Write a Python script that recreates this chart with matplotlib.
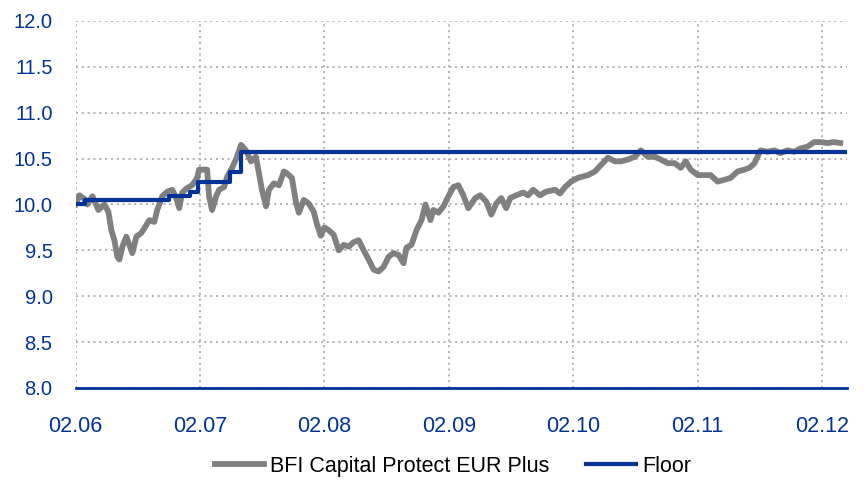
import matplotlib.pyplot as plt

plt.rcParams['font.family'] = ['Liberation Sans', 'DejaVu Sans']

# months since 02.06
fund_m = [0.0, 0.38, 0.87, 1.15, 1.63, 2.21, 2.79, 3.17, 3.46, 3.75, 4.04, 4.23, 4.52, 4.90,
          5.19, 5.48, 5.87, 6.35, 6.63, 7.12, 7.60, 7.88, 8.37, 8.85, 9.33, 9.71, 10.0, 10.29,
          10.77, 11.25, 11.73, 11.92, 12.69, 12.88, 13.17, 13.56, 13.85, 14.33, 14.62, 15.10,
          15.58, 15.96, 16.44, 16.92, 17.40, 17.69, 17.98, 18.37, 18.65, 19.13, 19.62, 20.10,
          20.38, 20.87, 21.25, 21.54, 22.02, 22.50, 22.98, 23.27, 23.65, 24.0, 24.42, 24.90,
          25.38, 25.87, 26.35, 26.83, 27.31, 27.79, 28.27, 28.75, 29.23, 29.71, 30.19, 30.67,
          31.15, 31.63, 31.92, 32.40, 32.88, 33.37, 33.75, 34.23, 34.52, 35.00, 35.48, 35.96,
          36.44, 36.92, 37.40, 37.88, 38.56, 39.04, 39.62, 40.10, 40.58, 41.06, 41.54, 41.92,
          42.50, 43.17, 43.65, 44.13, 44.81, 45.38, 46.25, 46.73, 47.21, 47.79, 48.46, 49.42,
          50.10, 50.67, 51.35, 52.02, 52.60, 53.27, 53.94, 54.52, 55.19, 55.87, 56.44, 57.12,
          57.79, 58.37, 58.85, 59.33, 60.0, 60.67, 61.25, 61.92, 62.60, 63.17, 63.85, 64.52,
          65.0, 65.48, 65.77, 66.06, 66.73, 67.40, 67.98, 68.65, 69.33, 69.90, 70.58, 71.25,
          71.83, 72.50, 73.17, 73.75]
fund_v = [10.00, 10.10, 10.06, 10.00, 10.09, 9.94, 10.00, 9.92, 9.72, 9.61, 9.43, 9.40, 9.54, 9.65,
          9.56, 9.47, 9.65, 9.69, 9.74, 9.83, 9.81, 9.94, 10.09, 10.14, 10.16, 10.07, 9.96, 10.13,
          10.18, 10.21, 10.29, 10.38, 10.38, 10.09, 9.94, 10.09, 10.16, 10.19, 10.30, 10.40,
          10.52, 10.65, 10.59, 10.47, 10.52, 10.34, 10.16, 9.98, 10.16, 10.23, 10.21, 10.36,
          10.34, 10.29, 10.03, 9.91, 10.05, 10.01, 9.92, 9.79, 9.66, 9.75, 9.72, 9.67,
          9.50, 9.56, 9.54, 9.59, 9.61, 9.50, 9.40, 9.29, 9.27, 9.32, 9.43, 9.47,
          9.45, 9.36, 9.53, 9.56, 9.72, 9.83, 10.00, 9.83, 9.94, 9.91, 9.98, 10.09,
          10.19, 10.21, 10.10, 9.96, 10.07, 10.10, 10.03, 9.89, 10.01, 10.07, 9.96, 10.07,
          10.10, 10.13, 10.10, 10.16, 10.10, 10.14, 10.16, 10.12, 10.19, 10.25, 10.29, 10.32,
          10.36, 10.43, 10.51, 10.47, 10.47, 10.49, 10.52, 10.59, 10.52, 10.52, 10.49, 10.45,
          10.45, 10.40, 10.47, 10.38, 10.32, 10.32, 10.32, 10.25, 10.27, 10.29, 10.36, 10.38,
          10.40, 10.45, 10.52, 10.59, 10.575, 10.59, 10.56, 10.59, 10.575, 10.61, 10.63, 10.68,
          10.68, 10.67, 10.68, 10.67]

floor_m = [0.0, 0.92, 9.04, 11.03, 11.77, 14.88, 16.0, 74.2]
floor_v = [10.0, 10.05, 10.09, 10.14, 10.25, 10.35, 10.575, 10.575]

tick_m = [0, 12, 24, 36, 48, 60, 72]
tick_lab = ['02.06', '02.07', '02.08', '02.09', '02.10', '02.11', '02.12']

blue = '#003399'
fig = plt.figure(figsize=(8.64, 4.87), dpi=100)
ax = fig.add_axes([0.0874, 0.2033, 0.8929, 0.7536])

ax.plot(fund_m, fund_v, color='#808080', lw=4.2, label='BFI Capital Protect EUR Plus',
        solid_joinstyle='round', zorder=3)
ax.step(floor_m, floor_v, where='post', color=blue, lw=3, label='Floor', zorder=4)

ax.set_xlim(0, 74.4)
ax.set_ylim(8, 12)
ax.set_xticks(tick_m)
ax.set_xticklabels(tick_lab)
ax.set_yticks([8 + 0.5 * i for i in range(9)])
ax.yaxis.set_major_formatter(plt.FormatStrFormatter('%.1f'))
ax.tick_params(axis='both', length=0, colors=blue)
ax.tick_params(axis='y', pad=16.5, labelsize=14.5)
ax.tick_params(axis='x', pad=20, labelsize=15.5)

ax.grid(True, color='#b0b0b0', linestyle=(0, (1, 2)), lw=1.4)
for s in ['top', 'right', 'left']:
    ax.spines[s].set_visible(False)
ax.spines['bottom'].set_color(blue)
ax.spines['bottom'].set_linewidth(2)
ax.spines['bottom'].set_zorder(5)

fig.legend(loc='center', bbox_to_anchor=(0.524, 0.043), ncol=2, frameon=False,
           fontsize=15.5, handlelength=2.3, columnspacing=1.7, handletextpad=0.28)

fig.savefig('out.png', dpi=100)
